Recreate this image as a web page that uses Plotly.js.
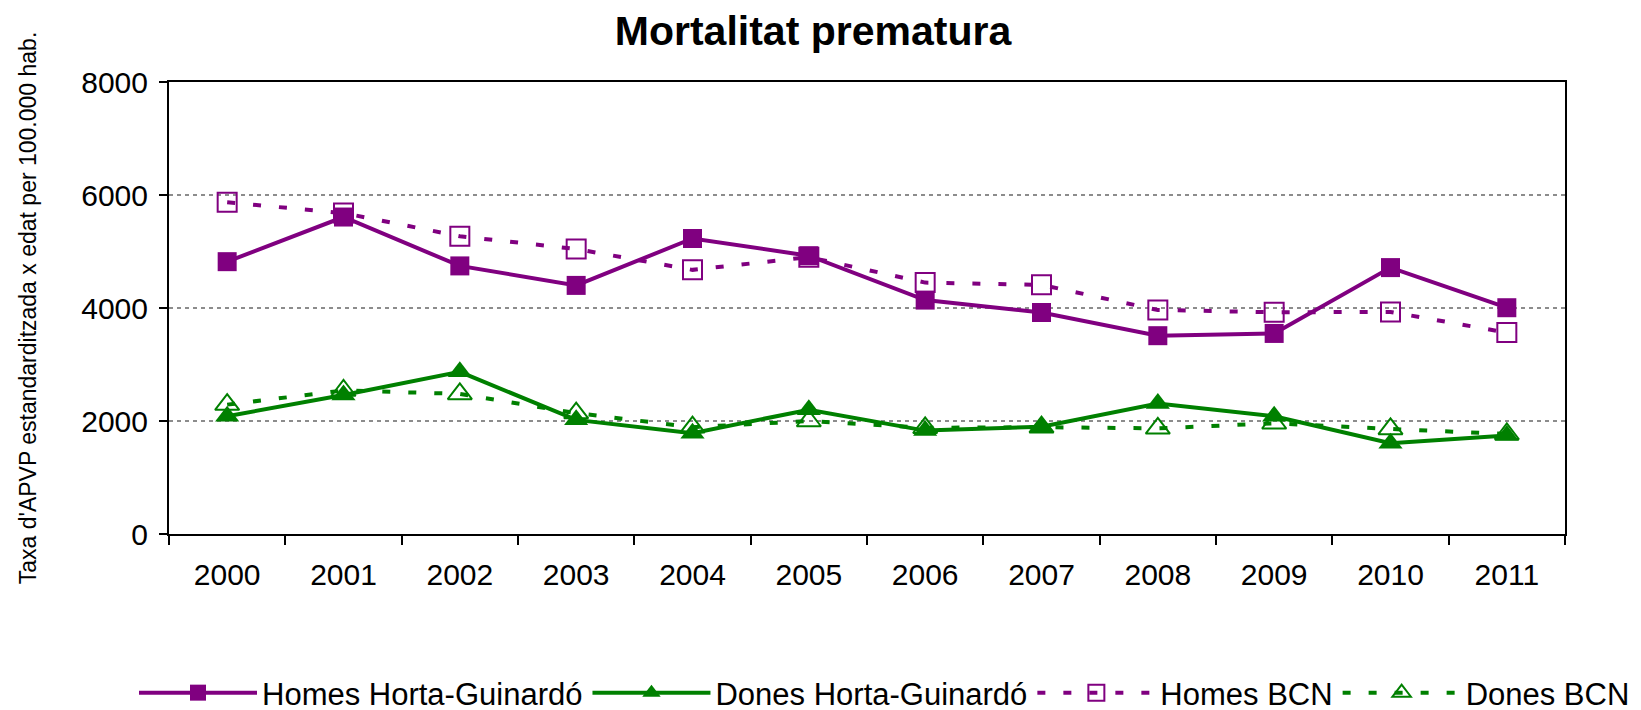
<!DOCTYPE html>
<html>
<head>
<meta charset="utf-8">
<script src="https://cdn.plot.ly/plotly-3.0.1.min.js"></script>
<style>html,body{margin:0;padding:0;background:#fff}#chart{width:1641px;height:710px}</style>
</head>
<body>
<div id="chart"></div>
<script>
const years = ['2000','2001','2002','2003','2004','2005','2006','2007','2008','2009','2010','2011'];
const homesHG = [4820, 5610, 4745, 4400, 5230, 4925, 4140, 3920, 3510, 3550, 4715, 4005];
const donesHG = [2085, 2460, 2870, 2020, 1785, 2200, 1830, 1900, 2310, 2085, 1605, 1745];
const homesBCN = [5870, 5680, 5270, 5045, 4675, 4900, 4450, 4410, 3965, 3925, 3930, 3565];
const donesBCN = [2290, 2540, 2480, 2140, 1890, 2000, 1880, 1890, 1870, 1960, 1860, 1770];
const names = ['Homes Horta-Guinardó', 'Dones Horta-Guinardó', 'Homes BCN', 'Dones BCN'];

const PURPLE = '#800080', GREEN = '#008000';
const FONT = 'Liberation Sans, Arial, Helvetica, sans-serif';

const traces = [
  {x: years, y: homesBCN, name: names[2], legendrank: 3, mode: 'lines+markers',
   line: {color: PURPLE, width: 4, dash: '8px,18px'},
   marker: {symbol: 'square-open', size: 19, color: PURPLE, line: {width: 2, color: PURPLE}}},
  {x: years, y: donesBCN, name: names[3], legendrank: 4, mode: 'lines+markers',
   line: {color: GREEN, width: 4, dash: '8px,18px'},
   marker: {symbol: 'triangle-up-open', size: 21, color: GREEN, line: {width: 2, color: GREEN}}},
  {x: years, y: homesHG, name: names[0], legendrank: 1, mode: 'lines+markers',
   line: {color: PURPLE, width: 4},
   marker: {symbol: 'square', size: 19, color: PURPLE}},
  {x: years, y: donesHG, name: names[1], legendrank: 2, mode: 'lines+markers',
   line: {color: GREEN, width: 4},
   marker: {symbol: 'triangle-up', size: 21, color: GREEN}}
];

const layout = {
  width: 1641, height: 710,
  paper_bgcolor: '#fff', plot_bgcolor: '#fff',
  margin: {l: 169, r: 76, t: 82, b: 176, autoexpand: false},
  font: {family: FONT, color: '#000', size: 30},
  title: {text: '<b>Mortalitat prematura</b>', font: {family: FONT, size: 41, color: '#000'},
          x: 813/1641, xref: 'container', xanchor: 'center', y: 1 - 31/710, yref: 'container', yanchor: 'middle'},
  showlegend: true,
  legend: {orientation: 'h', x: (134 - 169)/1396, xref: 'paper', xanchor: 'left',
           y: (534 - 693)/452, yref: 'paper', yanchor: 'middle',
           font: {family: FONT, size: 31, color: '#000'}, itemwidth: 118, traceorder: 'normal',
           bgcolor: 'rgba(0,0,0,0)'},
  xaxis: {type: 'category', range: [-0.5, 11.5], tickson: 'boundaries', ticks: 'outside', ticklen: 9, tickwidth: 2, tickcolor: '#000',
          showline: true, linecolor: '#000', linewidth: 2, mirror: true, showgrid: false, zeroline: false,
          ticklabelstandoff: 13, tickfont: {family: FONT, size: 30, color: '#000'}},
  yaxis: {range: [0, 8000], tickvals: [0, 2000, 4000, 6000, 8000], ticks: 'outside', ticklen: 8, tickwidth: 2,
          tickcolor: '#000', showline: true, linecolor: '#000', linewidth: 2, mirror: true,
          showgrid: true, gridcolor: '#8c8c8c', gridwidth: 2, griddash: '4px,4px', zeroline: false,
          ticklabelstandoff: 5, tickfont: {family: FONT, size: 30, color: '#000'},
          title: {text: "Taxa d'APVP estandarditzada x edat per 100.000 hab.", standoff: 38,
                  font: {family: FONT, size: 23, color: '#000'}}}
};

Plotly.newPlot('chart', traces, layout, {displayModeBar: false, staticPlot: true});
</script>
</body>
</html>
